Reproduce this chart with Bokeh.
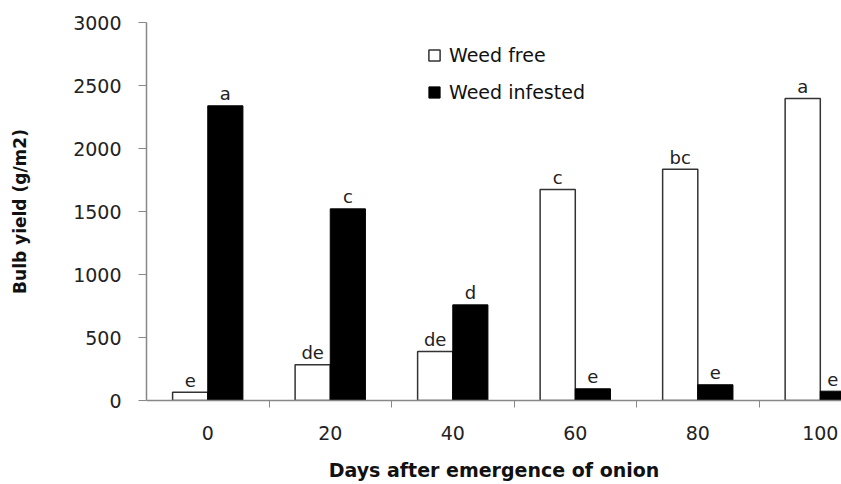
from bokeh.plotting import figure
from bokeh.models import FixedTicker, Legend, LegendItem, ColumnDataSource
from bokeh.embed import file_html
from bokeh.resources import INLINE
from bokeh.core.properties import value

days = ["0", "20", "40", "60", "80", "100"]
weed_free = [65, 283, 389, 1675, 1836, 2397]
weed_infested = [2339, 1521, 759, 93, 125, 74]
letters_free = ["e", "de", "de", "c", "bc", "a"]
letters_infested = ["a", "c", "d", "e", "e", "e"]
y_ticks = [0, 500, 1000, 1500, 2000, 2500, 3000]

idx = list(range(len(days)))
bw = 0.287
half = bw / 2

p = figure(width=841, height=484, output_backend="svg", toolbar_location=None,
           x_range=(-0.5, 5.173), y_range=(0, 3000),
           min_border_left=146, min_border_right=0, min_border_top=22, min_border_bottom=84)
p.outline_line_color = None
p.grid.visible = False
p.background_fill_color = "white"

src_f = ColumnDataSource(dict(x=[i - half for i in idx], top=weed_free, lab=letters_free,
                              dx=[0, 0, 0, 0, 0, 0]))
src_i = ColumnDataSource(dict(x=[i + half for i in idx], top=weed_infested, lab=letters_infested,
                              dx=[0, 0, 0, 0, 0, -5]))

r_f = p.vbar(x="x", top="top", width=bw, source=src_f, fill_color="white",
             line_color="#333333", line_width=1.5)
r_i = p.vbar(x="x", top="top", width=bw, source=src_i, fill_color="black",
             line_color="black", line_width=1)

for s in (src_f, src_i):
    p.text(x="x", y="top", text="lab", source=s, text_align="center",
           text_baseline="alphabetic", y_offset=-12, x_offset="dx",
           text_font=value("DejaVu Sans"), text_font_size="18px", text_color="#222222")

# axes
xa = p.xaxis[0]
xa.ticker = FixedTicker(ticks=idx, minor_ticks=[0.5, 1.5, 2.5, 3.5, 4.5])
xa.major_label_overrides = {i: d for i, d in zip(idx, days)}
xa.major_tick_out = 0
xa.major_tick_in = 0
xa.minor_tick_out = 7
xa.minor_tick_in = 0
xa.minor_tick_line_color = "#888888"
xa.axis_line_color = "#888888"
xa.axis_line_width = 1.5
xa.major_label_standoff = 18
xa.major_label_text_font = "DejaVu Sans"
xa.major_label_text_font_size = "19px"
xa.major_label_text_color = "#222222"
xa.axis_label = "Days after emergence of onion"
xa.axis_label_text_font = "DejaVu Sans"
xa.axis_label_text_font_style = "bold"
xa.axis_label_text_font_size = "19px"
xa.axis_label_text_color = "#111111"
xa.axis_label_standoff = 16

ya = p.yaxis[0]
ya.ticker = FixedTicker(ticks=y_ticks)
ya.minor_tick_line_color = None
ya.major_tick_out = 8
ya.major_tick_in = 0
ya.major_tick_line_color = "#888888"
ya.axis_line_color = "#888888"
ya.axis_line_width = 1.5
ya.major_label_standoff = 17
ya.major_label_text_font = "DejaVu Sans"
ya.major_label_text_font_size = "19px"
ya.major_label_text_color = "#222222"
ya.axis_label = "Bulb yield (g/m2)"
ya.axis_label_text_font = "DejaVu Sans"
ya.axis_label_text_font_style = "bold"
ya.axis_label_text_font_size = "17px"
ya.axis_label_text_color = "#111111"
ya.axis_label_standoff = 40

legend = Legend(items=[LegendItem(label="Weed free", renderers=[r_f]),
                       LegendItem(label="Weed infested", renderers=[r_i])],
                location=(281, 297), orientation="vertical",
                border_line_color=None, background_fill_alpha=0,
                padding=0, margin=0, spacing=15,
                glyph_width=14, glyph_height=14, label_height=22,
                label_standoff=8,
                label_text_font="DejaVu Sans", label_text_font_size="19px",
                label_text_color="#111111")
p.add_layout(legend)

open("out.html", "w").write(file_html(p, INLINE))
